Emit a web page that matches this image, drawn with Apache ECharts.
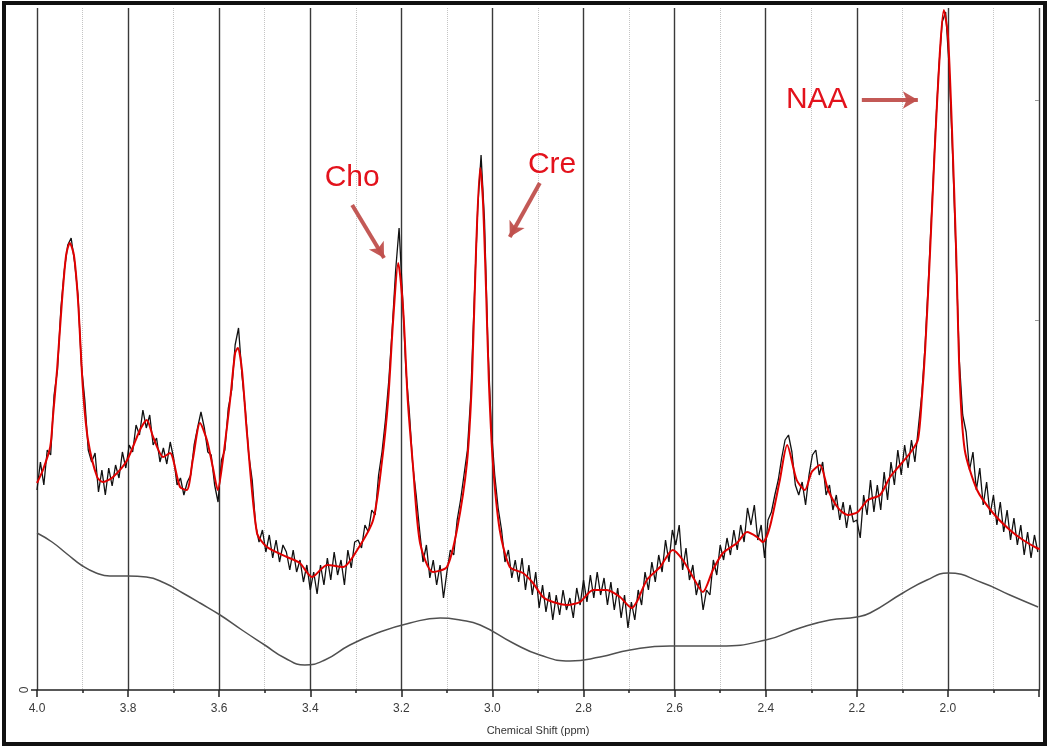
<!DOCTYPE html>
<html>
<head>
<meta charset="utf-8">
<script src="https://cdn.jsdelivr.net/npm/echarts@6/dist/echarts.min.js"></script>
<style>
  html, body { margin: 0; padding: 0; background: #fff; }
  #main { width: 1050px; height: 749px; }
</style>
</head>
<body>
<div id="main"></div>
<script>
// fitted spectrum (red), ppm / amplitude
const fitPpm = [4.000, 3.987, 3.971, 3.965, 3.956, 3.945, 3.936, 3.928, 3.919, 3.910, 3.899, 3.888, 3.868, 3.855, 3.833, 3.802,
  3.774, 3.759, 3.745, 3.723, 3.708, 3.686, 3.671, 3.658, 3.642, 3.627, 3.614, 3.603, 3.592, 3.576, 3.565, 3.559, 3.550, 3.539,
  3.517, 3.495, 3.451, 3.423, 3.396, 3.363, 3.328, 3.297, 3.262, 3.243, 3.229, 3.218, 3.207, 3.196, 3.186, 3.175, 3.159, 3.131,
  3.100, 3.078, 3.056, 3.045, 3.036, 3.027, 3.021, 3.014, 3.008, 2.999, 2.984, 2.962, 2.933, 2.911, 2.889, 2.867, 2.836, 2.808,
  2.779, 2.749, 2.720, 2.694, 2.681, 2.661, 2.632, 2.604, 2.582, 2.560, 2.538, 2.516, 2.494, 2.463, 2.441, 2.419, 2.406, 2.391,
  2.369, 2.353, 2.332, 2.314, 2.299, 2.281, 2.263, 2.241, 2.220, 2.198, 2.176, 2.149, 2.127, 2.105, 2.083, 2.066, 2.057, 2.050,
  2.040, 2.029, 2.018, 2.009, 2.000, 1.991, 1.982, 1.974, 1.963, 1.936, 1.901, 1.864, 1.835, 1.805, 1.798];
const fitVal = [207, 220, 243, 273, 320, 390, 435, 447, 435, 390, 300, 250, 213, 208, 213, 230,
  260, 270, 253, 233, 237, 203, 200, 230, 267, 250, 223, 200, 230, 290, 337, 342, 320, 257,
  157, 143, 133, 127, 113, 125, 123, 140, 170, 227, 290, 370, 427, 380, 290, 227, 147, 118,
  123, 160, 227, 310, 440, 522, 490, 400, 310, 227, 160, 123, 117, 107, 93, 88, 85, 88,
  100, 100, 93, 82, 90, 110, 123, 140, 130, 113, 98, 120, 137, 147, 158, 153, 148, 163,
  210, 245, 210, 200, 218, 225, 200, 182, 175, 178, 190, 195, 213, 225, 237, 250, 293, 340,
  430, 540, 635, 680, 655, 560, 440, 310, 240, 200, 177, 160, 150, 142, 141];

// baseline (grey)
const basePpm = [4.000, 3.967, 3.934, 3.900, 3.870, 3.840, 3.800, 3.760, 3.720, 3.680, 3.642, 3.598, 3.550, 3.500,
  3.456, 3.412, 3.368, 3.313, 3.247, 3.181, 3.115, 3.071, 3.027, 2.955, 2.896, 2.830, 2.764, 2.698, 2.610, 2.501,
  2.400, 2.325, 2.259, 2.200, 2.171, 2.099, 2.046, 2.000, 1.923, 1.864, 1.802];
const baseVal = [157, 148, 136, 124, 117, 114, 114, 113, 107, 97, 87, 75, 60, 45,
  32, 25, 30, 45, 58, 67, 72, 70, 65, 47, 35, 29, 33, 40, 44, 44,
  50, 62, 70, 73, 77, 97, 110, 117, 107, 95, 83];

// measured spectrum (black), sampled from 4.0 ppm downwards
const rawStart = 4.0;
const rawStep = 0.0075;
const rawVal = [
  200, 228, 205, 240, 235, 295, 320, 382, 420, 445,
  452, 428, 395, 325, 290, 240, 228, 237, 198, 220,
  195, 222, 204, 225, 212, 238, 222, 245, 238, 265,
  255, 280, 262, 275, 245, 252, 228, 242, 226, 248,
  232, 205, 212, 195, 208, 215, 245, 262, 278, 262,
  238, 235, 205, 188, 230, 240, 282, 300, 345, 362,
  315, 280, 235, 210, 165, 148, 160, 138, 155, 132,
  150, 128, 145, 138, 120, 140, 118, 130, 108, 125,
  100, 118, 96, 125, 105, 132, 110, 138, 115, 130,
  105, 140, 122, 148, 150, 142, 165, 158, 180, 175,
  215, 238, 270, 310, 362, 420, 462, 395, 320, 278,
  225, 195, 160, 128, 145, 112, 130, 105, 125, 92,
  118, 140, 135, 170, 190, 215, 240, 295, 390, 480,
  535, 470, 345, 262, 215, 182, 160, 128, 140, 112,
  130, 108, 132, 100, 125, 95, 118, 82, 105, 78,
  98, 70, 95, 75, 100, 80, 92, 72, 102, 85,
  110, 88, 115, 92, 118, 95, 112, 85, 108, 80,
  102, 72, 95, 62, 88, 70, 100, 85, 118, 100,
  128, 108, 135, 118, 150, 128, 160, 145, 165, 120,
  142, 110, 125, 95, 110, 80, 100, 95, 130, 115,
  145, 130, 152, 135, 160, 140, 165, 148, 182, 165,
  185, 150, 165, 132, 170, 178, 195, 210, 232, 250,
  255, 238, 205, 195, 208, 185, 215, 235, 240, 215,
  228, 195, 205, 180, 195, 170, 188, 162, 185, 168,
  170, 152, 195, 175, 210, 178, 205, 180, 218, 190,
  228, 205, 240, 215, 245, 222, 250, 228, 262, 295,
  345, 412, 485, 558, 622, 668, 678, 625, 540, 440,
  330, 275, 258, 220, 238, 200, 222, 185, 208, 175,
  195, 165, 188, 158, 180, 150, 172, 145, 165, 135,
  158, 132, 155, 138];

// annotation labels and arrows, in ppm / amplitude
const peakNames = ['Cho', 'Cre', 'NAA'];
const labelPos = [[3.308, 512], [2.869, 525], [2.288, 590]];
const arrowFrom = [[3.308, 485], [2.896, 507], [2.189, 590]];
const arrowTo = [[3.238, 432], [2.962, 453], [2.066, 590]];

const pairs = (xs, ys) => xs.map((x, i) => [x, ys[i]]);
const rawData = rawVal.map((v, i) => [+(rawStart - i * rawStep).toFixed(4), v]);

const chart = echarts.init(document.getElementById('main'));

const font = 'Liberation Sans, Arial, sans-serif';

chart.setOption({
  animation: false,
  backgroundColor: '#fff',
  grid: { left: 37, right: 11, top: 8, bottom: 59 },
  xAxis: {
    type: 'value',
    min: 1.8,
    max: 4.0,
    interval: 0.2,
    inverse: true,
    name: 'Chemical Shift (ppm)',
    nameLocation: 'middle',
    nameGap: 35,
    nameTextStyle: { color: '#333', fontSize: 11, fontFamily: font },
    axisLine: { show: true, onZero: false, lineStyle: { color: '#222', width: 1.5 } },
    axisTick: { show: true, length: 7, lineStyle: { color: '#222', width: 1.5 } },
    minorTick: { show: true, splitNumber: 2, length: 3, lineStyle: { color: '#222', width: 1.5 } },
    splitLine: { show: true, lineStyle: { color: '#3a3a3a', width: 1.4 } },
    minorSplitLine: { show: true, lineStyle: { color: '#c4c4c4', type: 'dotted', width: 1 } },
    axisLabel: {
      color: '#3a3a3a', fontSize: 12, fontFamily: font, margin: 13,
      formatter: v => (v < 1.85 ? '' : v.toFixed(1))
    }
  },
  yAxis: [{
    type: 'value',
    min: 0,
    max: 682,
    axisLine: { show: false },
    splitLine: { show: false },
    axisTick: { show: true, customValues: [0], length: 6, lineStyle: { color: '#222', width: 1.5 } },
    axisLabel: { customValues: [0], rotate: 90, color: '#3a3a3a', fontSize: 12, fontFamily: font, margin: 6 }
  }, {
    type: 'value',
    position: 'right',
    min: 0,
    max: 682,
    axisLine: { show: false },
    splitLine: { show: false },
    axisTick: { show: true, inside: true, customValues: [370, 590], length: 4, lineStyle: { color: '#999' } },
    axisLabel: { show: false }
  }],
  series: [
    {
      name: 'baseline',
      type: 'line',
      data: pairs(basePpm, baseVal),
      smooth: 0.5,
      showSymbol: false,
      lineStyle: { color: '#505050', width: 1.5 },
      z: 2
    },
    {
      name: 'spectrum',
      type: 'line',
      data: rawData,
      showSymbol: false,
      lineStyle: { color: '#111', width: 1.3 },
      z: 3
    },
    {
      name: 'fit',
      type: 'line',
      data: pairs(fitPpm, fitVal),
      smooth: 0.25,
      showSymbol: false,
      lineStyle: { color: '#e00000', width: 2 },
      z: 4,
      markPoint: {
        symbol: 'circle',
        symbolSize: 0,
        label: {
          show: true, position: 'inside', formatter: '{b}',
          color: '#e3121c', fontSize: 30, fontFamily: font
        },
        data: peakNames.map((n, i) => ({ name: n, coord: labelPos[i] }))
      },
      markLine: {
        silent: true,
        symbol: ['none', 'arrow'],
        symbolSize: [13, 15],
        label: { show: false },
        lineStyle: { color: '#c0504d', width: 4, type: 'solid', opacity: 0.95 },
        data: peakNames.map((n, i) => [{ coord: arrowFrom[i] }, { coord: arrowTo[i] }])
      }
    }
  ],
  graphic: [{
    type: 'rect',
    shape: { x: 4, y: 3, width: 1041, height: 741 },
    style: { fill: 'none', stroke: '#111', lineWidth: 4 },
    z: 100
  }]
});
</script>
</body>
</html>
